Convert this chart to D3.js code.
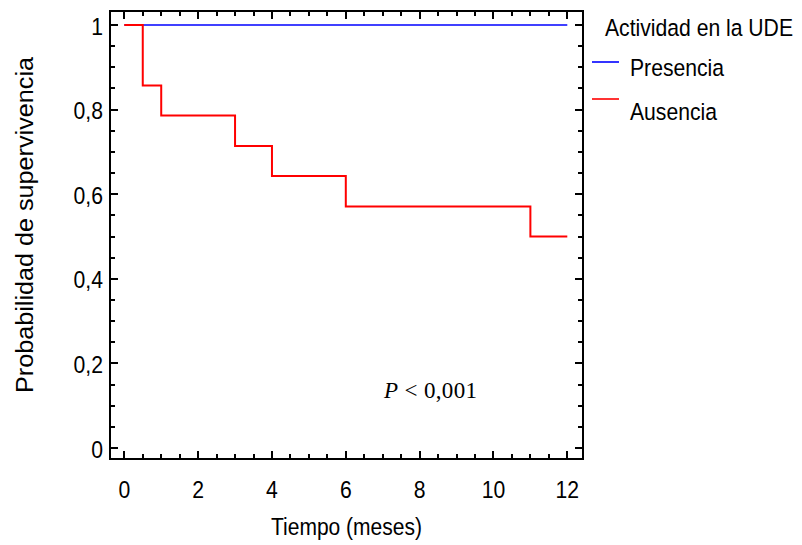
<!DOCTYPE html>
<html>
<head>
<meta charset="utf-8">
<script src="https://cdn.jsdelivr.net/npm/d3@7/dist/d3.min.js"></script>
<style>
  html, body { margin: 0; padding: 0; background: #fff; }
  svg text { font-family: "Liberation Sans", Arial, sans-serif; fill: #000; }
</style>
</head>
<body>
<svg id="chart" width="802" height="545"></svg>
<script>
// Kaplan-Meier survival by activity in the UDE
const groups = ["Presencia", "Ausencia"];
const groupColors = ["#0000ff", "#ff0000"];
// step points: time (months), survival probability
const presenciaTimes = [0, 12];
const presenciaSurv = [1, 1];
const ausenciaTimes = [0, 0.5, 1, 3, 4, 6, 11, 12];
const ausenciaSurv = [1, 0.857, 0.786, 0.714, 0.643, 0.571, 0.5, 0.5];
const xTicks = [0, 2, 4, 6, 8, 10, 12];
const yTicks = [0, 0.2, 0.4, 0.6, 0.8, 1];
const yTickLabels = ["0", "0,2", "0,4", "0,6", "0,8", "1"];

const svg = d3.select("#chart");
const frame = { left: 110, top: 11, right: 583, bottom: 459 };

const x = d3.scaleLinear().domain([0, 12]).range([124.3, 567.3]);
const y = d3.scaleLinear().domain([0, 1]).range([448, 25]);

// narrow the glyphs of a text selection to a fraction of their natural width
function condense(sel, factor) {
  sel.each(function () {
    const w = this.getComputedTextLength();
    d3.select(this).attr("textLength", w * factor).attr("lengthAdjust", "spacingAndGlyphs");
  });
}

// mirrored ticks on all four sides, pointing inward
const xMinor = d3.range(0, 12.01, 0.5);
const yMinor = d3.range(0, 1.001, 0.05);
const isMajorX = v => Math.abs(v / 2 - Math.round(v / 2)) < 1e-6;
const isMajorY = v => Math.abs(v / 0.2 - Math.round(v / 0.2)) < 1e-6;

const ticks = svg.append("g").attr("stroke", "#000").attr("stroke-width", 2);
xMinor.forEach(v => {
  const len = isMajorX(v) ? 8 : 5;
  const px = Math.round(x(v));
  ticks.append("line").attr("x1", px).attr("x2", px)
    .attr("y1", frame.bottom).attr("y2", frame.bottom - len);
  ticks.append("line").attr("x1", px).attr("x2", px)
    .attr("y1", frame.top).attr("y2", frame.top + len);
});
yMinor.forEach(v => {
  const len = isMajorY(v) ? 8 : 5;
  const py = Math.round(y(v));
  ticks.append("line").attr("y1", py).attr("y2", py)
    .attr("x1", frame.left).attr("x2", frame.left + len);
  ticks.append("line").attr("y1", py).attr("y2", py)
    .attr("x1", frame.right).attr("x2", frame.right - len);
});

// curves
const stepLine = d3.line().x(d => x(d[0])).y(d => y(d[1])).curve(d3.curveStepAfter);
const series = [
  d3.zip(presenciaTimes, presenciaSurv),
  d3.zip(ausenciaTimes, ausenciaSurv)
];
series.forEach((pts, i) => {
  svg.append("path").attr("d", stepLine(pts))
    .attr("fill", "none").attr("stroke", groupColors[i])
    .attr("stroke-width", i === 0 ? 1.6 : 2);
});

// frame
svg.append("rect")
  .attr("x", frame.left).attr("y", frame.top)
  .attr("width", frame.right - frame.left).attr("height", frame.bottom - frame.top)
  .attr("fill", "none").attr("stroke", "#000").attr("stroke-width", 2);

// tick labels
svg.append("g").selectAll("text").data(xTicks).join("text")
  .attr("x", d => x(d)).attr("y", frame.bottom + 39)
  .attr("text-anchor", "middle").attr("font-size", 23.5)
  .text(d => d)
  .call(condense, 0.9);
svg.append("g").selectAll("text").data(yTicks).join("text")
  .attr("x", frame.left - 7).attr("y", d => y(d) + 9.5)
  .attr("text-anchor", "end").attr("font-size", 23.5)
  .text((d, i) => yTickLabels[i])
  .call(condense, 0.9);

// axis titles
svg.append("text")
  .attr("x", (frame.left + frame.right) / 2).attr("y", 535)
  .attr("text-anchor", "middle").attr("font-size", 23.5)
  .attr("textLength", 151).attr("lengthAdjust", "spacingAndGlyphs")
  .text("Tiempo (meses)");
svg.append("text")
  .attr("transform", "translate(33,225) rotate(-90)")
  .attr("text-anchor", "middle").attr("font-size", 23.5)
  .attr("textLength", 336).attr("lengthAdjust", "spacingAndGlyphs")
  .text("Probabilidad de supervivencia");

// legend (title squeezed horizontally so it stays inside the right edge)
svg.append("text")
  .attr("transform", "translate(605,36) scale(0.9,1)")
  .attr("font-size", 23.5)
  .text("Actividad en la UDE");
const legendLineY = [62, 99];
const legendTextY = [76, 120];
groups.forEach((g, i) => {
  svg.append("line").attr("x1", 592).attr("x2", 619)
    .attr("y1", legendLineY[i]).attr("y2", legendLineY[i])
    .attr("stroke", groupColors[i]).attr("stroke-width", 1.6);
  svg.append("text")
    .attr("transform", `translate(630,${legendTextY[i]}) scale(0.9,1)`)
    .attr("font-size", 23.5)
    .text(g);
});

// log-rank p-value
const pt = svg.append("text").attr("x", 384).attr("y", 398)
  .attr("font-size", 23).attr("textLength", 93).attr("lengthAdjust", "spacing")
  .style("font-family", "'Liberation Serif', 'Times New Roman', serif");
pt.append("tspan").attr("font-style", "italic").text("P");
pt.append("tspan").text(" < 0,001");
</script>
</body>
</html>
